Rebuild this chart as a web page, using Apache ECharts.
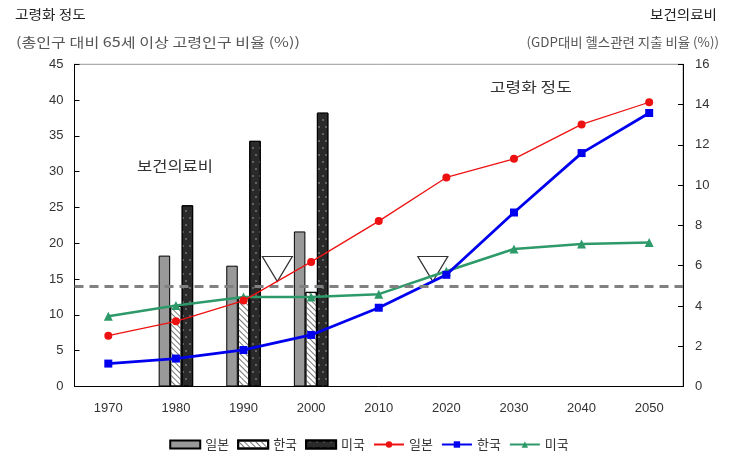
<!DOCTYPE html>
<html>
<head>
<meta charset="utf-8">
<script src="https://cdn.jsdelivr.net/npm/echarts@6/dist/echarts.min.js"></script>
<style>
html,body{margin:0;padding:0;background:#fff;}
#chart{width:738px;height:472px;}
</style>
</head>
<body>
<div id="chart"></div>
<script>
const years = ['1970','1980','1990','2000','2010','2020','2030','2040','2050'];
// 고령화 정도 (left axis, %)
const ageJapan = [7.1, 9.1, 12.0, 17.4, 23.1, 29.2, 31.8, 36.6, 39.7];
const ageKorea = [3.2, 3.9, 5.1, 7.2, 11.0, 15.6, 24.3, 32.6, 38.2];
const ageUS    = [9.8, 11.3, 12.5, 12.5, 12.9, 16.1, 19.2, 19.9, 20.1];
// 보건의료비 (right axis, % of GDP)
const healthJapan = [null, 6.5, 6.0, 7.7, null, null, null, null, null];
const healthKorea = [null, 4.0, 4.4, 4.7, null, null, null, null, null];
const healthUS    = [null, 9.0, 12.2, 13.6, null, null, null, null, null];
// aged-society threshold and markers
const thresholdValue = 14;
const triangleYears = [1995, 2018];
const triangleValue = 16.4;

const FONT = '"Liberation Sans", "Noto Sans CJK KR", sans-serif';
const KFONT = '"Noto Sans CJK KR", sans-serif';

const chart = echarts.init(document.getElementById('chart'), null, {renderer: 'canvas'});

const axisLabelStyle = {color: '#333', fontSize: 13, fontFamily: FONT};

function txt(text, x, y, opts) {
  return {
    type: 'text', x: x, y: y, scaleX: opts.scaleX || 1,
    style: {text: text, fill: opts.fill || '#333', font: (opts.size || 13) + 'px ' + KFONT,
            align: opts.align || 'left', verticalAlign: 'middle'}
  };
}

const option = {
  animation: false,
  backgroundColor: '#fff',
  grid: {left: 74.5, right: 55, top: 64.3, bottom: 85.5, show: true, borderColor: '#999', borderWidth: 1},
  legend: {
    bottom: 16,
    left: 'center',
    itemWidth: 30,
    itemHeight: 8,
    itemGap: 8,
    textStyle: {color: '#333', fontSize: 13, fontFamily: KFONT},
    formatter: name => name.replace(/_.*/, ''),
    data: [
      {name: '일본_bar', icon: 'rect'},
      {name: '한국_bar', icon: 'rect'},
      {name: '미국_bar', icon: 'rect'},
      '일본_line', '한국_line', '미국_line'
    ]
  },
  xAxis: [{
    type: 'category',
    data: years,
    axisLine: {lineStyle: {color: '#000', width: 1}},
    axisTick: {inside: true, length: 5, lineStyle: {color: '#000'}},
    axisLabel: Object.assign({margin: 15}, axisLabelStyle),
    splitLine: {show: false}
  }, {
    type: 'value', min: 1965, max: 2055, show: false
  }],
  yAxis: [{
    type: 'value', min: 0, max: 45, interval: 5,
    axisLine: {show: true, lineStyle: {color: '#000'}},
    axisTick: {show: true, inside: true, length: 5, lineStyle: {color: '#000'}},
    axisLabel: Object.assign({margin: 11}, axisLabelStyle),
    splitLine: {show: false}
  }, {
    type: 'value', min: 0, max: 16, interval: 2,
    axisLine: {show: true, lineStyle: {color: '#000'}},
    axisTick: {show: true, inside: true, length: 5, lineStyle: {color: '#000'}},
    axisLabel: Object.assign({margin: 12}, axisLabelStyle),
    splitLine: {show: false}
  }],
  graphic: [
    txt('고령화 정도', 15, 14, {fill: '#222', scaleX: 1.13}),
    txt('(총인구 대비 65세 이상 고령인구 비율 (%))', 16, 42, {fill: '#555', scaleX: 1.24}),
    txt('보건의료비', 717, 14, {fill: '#222', align: 'right', scaleX: 1.12}),
    txt('(GDP대비 헬스관련 지출 비율 (%))', 719, 42, {fill: '#555', align: 'right', scaleX: 1.03}),
    txt('보건의료비', 137, 166, {size: 14, scaleX: 1.18}),
    txt('고령화 정도', 490, 87, {size: 14, scaleX: 1.21})
  ],
  series: [
    {
      name: '일본_bar', type: 'bar', yAxisIndex: 1, data: healthJapan,
      barWidth: 11.5, barGap: '0%',
      itemStyle: {color: '#999999', borderColor: '#000', borderWidth: 1}
    },
    {
      name: '한국_bar', type: 'bar', yAxisIndex: 1, data: healthKorea,
      barWidth: 11.5, barGap: '0%',
      itemStyle: {
        color: '#ffffff', borderColor: '#000', borderWidth: 1,
        decal: {symbol: 'rect', symbolSize: 1, color: '#777', dashArrayX: [1, 0], dashArrayY: [1, 2.5], rotation: Math.PI / 4}
      }
    },
    {
      name: '미국_bar', type: 'bar', yAxisIndex: 1, data: healthUS,
      barWidth: 11.5, barGap: '0%',
      itemStyle: {
        color: '#2a2a2a', borderColor: '#000', borderWidth: 1,
        decal: {symbol: 'circle', symbolSize: 0.8, color: 'rgba(255,255,255,0.6)', dashArrayX: [[2, 5], [0, 3, 2, 2]], dashArrayY: [2, 5], rotation: 0}
      }
    },
    {
      name: '_triangles', type: 'scatter', xAxisIndex: 1, yAxisIndex: 0,
      data: triangleYears.map(y => [y, triangleValue]),
      symbol: 'triangle', symbolRotate: 180, symbolSize: [30, 25],
      itemStyle: {color: '#fff', borderColor: '#000', borderWidth: 1.2},
      z: 1, silent: true
    },
    {
      name: '미국_line', type: 'line', yAxisIndex: 0, data: ageUS,
      symbol: 'triangle', symbolSize: 9,
      lineStyle: {color: '#2e9a6a', width: 2.5},
      itemStyle: {color: '#2e9a6a'},
      z: 3,
      markLine: {
        silent: true, symbol: 'none',
        label: {show: false},
        lineStyle: {color: '#808080', width: 3, type: [9, 6]},
        data: [{yAxis: thresholdValue}]
      }
    },
    {
      name: '한국_line', type: 'line', yAxisIndex: 0, data: ageKorea,
      symbol: 'rect', symbolSize: 8,
      lineStyle: {color: '#0000ee', width: 2.8},
      itemStyle: {color: '#0000ee'},
      z: 4
    },
    {
      name: '일본_line', type: 'line', yAxisIndex: 0, data: ageJapan,
      symbol: 'circle', symbolSize: 8,
      lineStyle: {color: '#ee1111', width: 1.3},
      itemStyle: {color: '#ee1111'},
      z: 5
    }
  ]
};
chart.setOption(option);
</script>
</body>
</html>
